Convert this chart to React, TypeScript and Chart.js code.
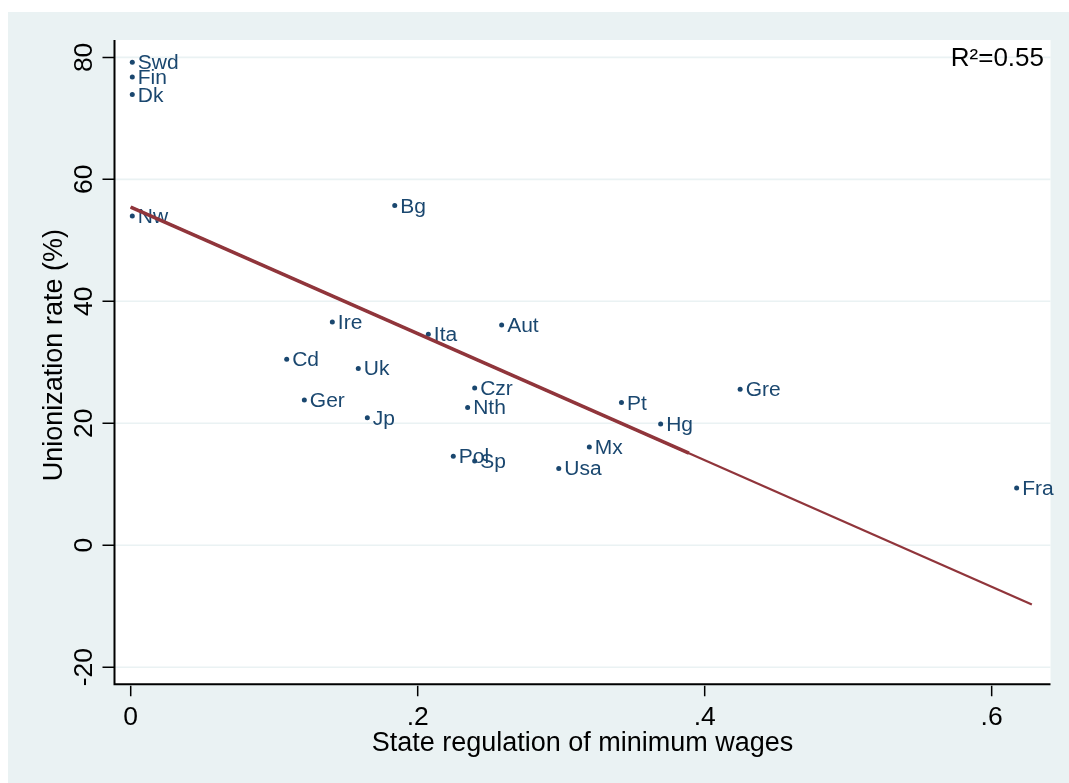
import React, { useEffect, useRef } from "react";
import { Chart, registerables } from "chart.js";

Chart.register(...registerables);

// ---------------- data ----------------
const countries = ["Swd", "Fin", "Dk", "Nw", "Bg", "Ire", "Ita", "Aut", "Cd", "Uk", "Czr", "Ger", "Nth", "Jp", "Pol", "Sp", "Usa", "Mx", "Pt", "Gre", "Hg", "Fra"];
const minWageRegulation = [0.0011, 0.0011, 0.0011, 0.0011, 0.184, 0.1405, 0.2074, 0.2585, 0.1087, 0.1586, 0.2397, 0.121, 0.2348, 0.1649, 0.2248, 0.2397, 0.2983, 0.3196, 0.342, 0.4247, 0.3693, 0.6174];
const unionizationRate = [79.2, 76.8, 73.9, 54.0, 55.7, 36.6, 34.6, 36.1, 30.5, 29.0, 25.8, 23.8, 22.6, 20.9, 14.6, 13.8, 12.6, 16.1, 23.4, 25.6, 19.9, 9.4];

const fitX = [0, 0.628];
const fitY = [55.46, -9.7];
const fitOverlayX = [0, 0.389];
const fitOverlayY = [55.46, 15.1];

const xTicks = [0, 0.2, 0.4, 0.6];
const xTickLabels = ["0", ".2", ".4", ".6"];
const yTicks = [-20, 0, 20, 40, 60, 80];
const yTickLabels = ["-20", "0", "20", "40", "60", "80"];

const xTitle = "State regulation of minimum wages";
const yTitle = "Unionization rate (%)";
const rSquaredLabel = "R\u00B2=0.55";

// ---------------- styles ----------------
const FONT = '"Liberation Sans", Arial, Helvetica, sans-serif';
const BG = "#eaf2f3";
const GRID = "#eaf2f3";
const NAVY = "#1a476f";
const MAROON = "#90353b";
const CANVAS_W = 1061;
const CANVAS_H = 771;

function drawText(
  ctx: CanvasRenderingContext2D,
  text: string,
  x: number,
  y: number,
  size: number,
  color: string,
  align: CanvasTextAlign,
  rot = 0,
  sx = 1
) {
  ctx.save();
  ctx.translate(x, y);
  if (rot) ctx.rotate(rot);
  ctx.scale(sx, 1);
  ctx.font = `${size}px ${FONT}`;
  ctx.fillStyle = color;
  ctx.textAlign = align;
  ctx.textBaseline = "alphabetic";
  ctx.fillText(text, 0, 0);
  ctx.restore();
}

const stataPlugin = {
  id: "stataLook",
  beforeDraw(chart: any) {
    const { ctx, chartArea: a } = chart;
    ctx.save();
    ctx.fillStyle = BG;
    ctx.fillRect(0, 0, chart.canvas.width, chart.canvas.height);
    ctx.fillStyle = "#ffffff";
    ctx.fillRect(a.left, a.top, a.right - a.left, a.bottom - a.top);
    const ys = chart.scales.y;
    ctx.strokeStyle = GRID;
    ctx.lineWidth = 1.6;
    yTicks.forEach((v) => {
      const p = ys.getPixelForValue(v);
      ctx.beginPath();
      ctx.moveTo(a.left, p);
      ctx.lineTo(a.right, p);
      ctx.stroke();
    });
    ctx.restore();
  },
  afterDatasetDraw(chart: any, args: any) {
    if (args.index !== 0) return;
    const { ctx } = chart;
    const meta = chart.getDatasetMeta(0);
    meta.data.forEach((el: any, i: number) => {
      drawText(ctx, countries[i], el.x + 5.5, el.y + 7, 20, NAVY, "left", 0, 1.05);
    });
  },
  afterDraw(chart: any) {
    const { ctx, chartArea: a } = chart;
    const xs = chart.scales.x;
    const ys = chart.scales.y;
    ctx.save();
    ctx.strokeStyle = "#000000";
    // axis lines
    ctx.lineWidth = 2;
    ctx.beginPath();
    ctx.moveTo(a.left, a.top);
    ctx.lineTo(a.left, a.bottom);
    ctx.moveTo(a.left - 1, a.bottom);
    ctx.lineTo(a.right, a.bottom);
    ctx.stroke();
    // ticks
    ctx.lineWidth = 1.5;
    ctx.beginPath();
    yTicks.forEach((v) => {
      const p = ys.getPixelForValue(v);
      ctx.moveTo(a.left - 12, p);
      ctx.lineTo(a.left, p);
    });
    xTicks.forEach((v) => {
      const p = xs.getPixelForValue(v);
      ctx.moveTo(p, a.bottom + 1.5);
      ctx.lineTo(p, a.bottom + 12);
    });
    ctx.stroke();
    ctx.restore();

    // tick labels
    xTicks.forEach((v, i) => {
      drawText(ctx, xTickLabels[i], xs.getPixelForValue(v), a.bottom + 40.3, 25, "#000", "center", 0, 1.06);
    });
    yTicks.forEach((v, i) => {
      drawText(ctx, yTickLabels[i], a.left - 22.8, ys.getPixelForValue(v), 25, "#000", "center", -Math.PI / 2, 1.06);
    });
    // titles
    drawText(ctx, xTitle, (a.left + a.right) / 2, a.bottom + 66.5, 27, "#000", "center");
    drawText(ctx, yTitle, a.left - 52.8, (a.top + a.bottom) / 2 - 7, 27, "#000", "center", -Math.PI / 2);
    // R squared
    drawText(ctx, rSquaredLabel, a.right - 6.5, a.top + 25.7, 26, "#000", "right");
  },
};

export default function App() {
  const ref = useRef<HTMLCanvasElement>(null);

  useEffect(() => {
    document.documentElement.style.overflow = "hidden";
    const points = countries.map((_, i) => ({ x: minWageRegulation[i], y: unionizationRate[i] }));
    const fit = fitX.map((x, i) => ({ x, y: fitY[i] }));
    const fitOverlay = fitOverlayX.map((x, i) => ({ x, y: fitOverlayY[i] }));

    const chart = new Chart(ref.current as HTMLCanvasElement, {
      type: "scatter",
      data: {
        datasets: [
          {
            label: "Unionization rate (%)",
            data: points,
            pointRadius: 2.5,
            pointHoverRadius: 2.5,
            pointBorderWidth: 0,
            pointBackgroundColor: NAVY,
            borderColor: NAVY,
            backgroundColor: NAVY,
            order: 3,
          },
          {
            label: "Fitted values",
            data: fit,
            showLine: true,
            borderColor: MAROON,
            borderWidth: 2.2,
            pointRadius: 0,
            pointHoverRadius: 0,
            tension: 0,
            order: 2,
          },
          {
            label: "Fitted values (overlay)",
            data: fitOverlay,
            showLine: true,
            borderColor: MAROON,
            borderWidth: 3.6,
            pointRadius: 0,
            pointHoverRadius: 0,
            tension: 0,
            order: 1,
          },
        ],
      },
      options: {
        responsive: false,
        animation: false,
        devicePixelRatio: 1,
        events: [],
        layout: { padding: { left: 106.5, top: 28, right: 18.5, bottom: CANVAS_H - 672.3 } },
        plugins: {
          legend: { display: false },
          tooltip: { enabled: false },
          title: { display: false },
        },
        scales: {
          x: { type: "linear", display: false, min: -0.0113, max: 0.641 },
          y: { type: "linear", display: false, min: -22.8, max: 82.85 },
        },
      },
      plugins: [stataPlugin],
    } as any);

    return () => chart.destroy();
  }, []);

  return (
    <div style={{ position: "fixed", left: 8, top: 12, width: CANVAS_W, height: CANVAS_H }}>
      <canvas
        ref={ref}
        width={CANVAS_W}
        height={CANVAS_H}
        style={{ display: "block", width: CANVAS_W, height: CANVAS_H }}
      />
    </div>
  );
}
